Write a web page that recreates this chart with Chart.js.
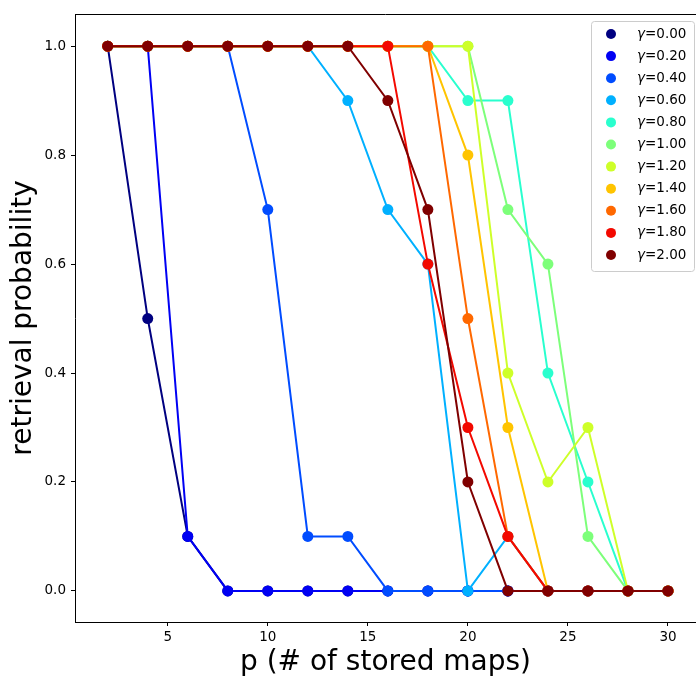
<!DOCTYPE html>
<html>
<head>
<meta charset="utf-8">
<script src="https://cdn.jsdelivr.net/npm/chart.js@4.4.1/dist/chart.umd.min.js"></script>
<style>
  html, body { margin: 0; padding: 0; background: #fff; }
  canvas { display: block; }
</style>
</head>
<body>
<canvas id="chart" width="696" height="677"></canvas>
<script>
// p values (number of stored maps)
const pValues = [2, 4, 6, 8, 10, 12, 14, 16, 18, 20, 22, 24, 26, 28, 30];

const gammaLabels = ['0.00', '0.20', '0.40', '0.60', '0.80', '1.00', '1.20', '1.40', '1.60', '1.80', '2.00'];

// jet colormap samples
const gammaColors = ['#000080', '#0000f3', '#004cff', '#00b0ff', '#29ffce', '#7dff7a',
                     '#ceff29', '#ffc400', '#ff6800', '#f30900', '#800000'];

const g000 = [1, 0.5, 0.1, 0, 0, 0, 0, 0, 0, 0, 0, 0, 0, 0, 0];
const g020 = [1, 1, 0.1, 0, 0, 0, 0, 0, 0, 0, 0, 0, 0, 0, 0];
const g040 = [1, 1, 1, 1, 0.7, 0.1, 0.1, 0, 0, 0, 0, 0, 0, 0, 0];
const g060 = [1, 1, 1, 1, 1, 1, 0.9, 0.7, 0.6, 0, 0.1, 0, 0, 0, 0];
const g080 = [1, 1, 1, 1, 1, 1, 1, 1, 1, 0.9, 0.9, 0.4, 0.2, 0, 0];
const g100 = [1, 1, 1, 1, 1, 1, 1, 1, 1, 1, 0.7, 0.6, 0.1, 0, 0];
const g120 = [1, 1, 1, 1, 1, 1, 1, 1, 1, 1, 0.4, 0.2, 0.3, 0, 0];
const g140 = [1, 1, 1, 1, 1, 1, 1, 1, 1, 0.8, 0.3, 0, 0, 0, 0];
const g160 = [1, 1, 1, 1, 1, 1, 1, 1, 1, 0.5, 0.1, 0, 0, 0, 0];
const g180 = [1, 1, 1, 1, 1, 1, 1, 1, 0.6, 0.3, 0.1, 0, 0, 0, 0];
const g200 = [1, 1, 1, 1, 1, 1, 1, 0.9, 0.7, 0.2, 0, 0, 0, 0, 0];

const series = [g000, g020, g040, g060, g080, g100, g120, g140, g160, g180, g200];

const xTicks = [5, 10, 15, 20, 25, 30];
const yTicks = [0, 0.2, 0.4, 0.6, 0.8, 1.0];

const FONT = "'DejaVu Sans', sans-serif";

// top frame line (matplotlib box)
const framePlugin = {
  id: 'frame',
  afterDatasetsDraw(chart) {
    const { ctx, chartArea: a } = chart;
    ctx.save();
    ctx.strokeStyle = '#000';
    ctx.lineWidth = 1;
    ctx.beginPath();
    ctx.moveTo(a.left, a.top + 0.5);
    ctx.lineTo(a.right, a.top + 0.5);
    ctx.stroke();
    ctx.restore();
  }
};

// matplotlib-style legend box in the upper right
const legendPlugin = {
  id: 'mplLegend',
  afterDraw(chart) {
    const { ctx } = chart;
    const x0 = 591, y0 = 21, w = 103, h = 250, r = 3;
    ctx.save();
    ctx.fillStyle = 'rgba(255,255,255,0.8)';
    ctx.strokeStyle = '#cccccc';
    ctx.lineWidth = 1;
    ctx.beginPath();
    ctx.roundRect(x0 + 0.5, y0 + 0.5, w, h, r);
    ctx.fill();
    ctx.stroke();

    chart.data.datasets.forEach((ds, i) => {
      const cy = 34 + i * 22.1;
      ctx.fillStyle = ds.backgroundColor;
      ctx.beginPath();
      ctx.arc(611, cy, 5, 0, Math.PI * 2);
      ctx.fill();

      ctx.fillStyle = '#000';
      ctx.textBaseline = 'middle';
      ctx.font = "italic 13.5px " + FONT;
      ctx.fillText('γ', 637, cy);
      const gw = ctx.measureText('γ').width;
      ctx.font = "13.5px " + FONT;
      ctx.fillText('=' + gammaLabels[i], 637 + gw, cy);
    });
    ctx.restore();
  }
};

new Chart(document.getElementById('chart'), {
  type: 'line',
  data: {
    datasets: series.map((vals, i) => ({
      label: 'γ=' + gammaLabels[i],
      data: vals.map((v, j) => ({ x: pValues[j], y: v })),
      borderColor: gammaColors[i],
      backgroundColor: gammaColors[i],
      borderWidth: 2,
      pointRadius: 5.5,
      pointBorderWidth: 0,
      pointHoverRadius: 5.5,
      tension: 0,
      fill: false,
      order: -i,
    })),
  },
  options: {
    responsive: false,
    animation: false,
    events: [],
    layout: { autoPadding: false, padding: { top: 14, right: 0, left: 0, bottom: 0 } },
    plugins: {
      legend: { display: false },
      tooltip: { enabled: false },
    },
    scales: {
      x: {
        type: 'linear',
        min: 0.365,
        max: 31.4,
        afterBuildTicks: s => { s.ticks = xTicks.map(v => ({ value: v })); },
        afterFit: s => { s.height = 55; s.paddingLeft = 0; s.paddingRight = 0; },
        ticks: {
          color: '#000',
          font: { family: FONT, size: 13.5 },
          padding: 3,
          maxRotation: 0,
          callback: v => String(v),
        },
        grid: { drawOnChartArea: false, drawTicks: true, tickLength: 4, color: '#000' },
        border: { display: true, color: '#000', width: 1 },
        title: {
          display: true,
          text: 'p (# of stored maps)',
          color: '#000',
          font: { family: FONT, size: 28, lineHeight: 1 },
          padding: { top: 0, bottom: 0 },
        },
      },
      y: {
        min: -0.057,
        max: 1.059,
        afterBuildTicks: s => { s.ticks = yTicks.map(v => ({ value: v })); },
        afterFit: s => { s.width = 75; s.paddingTop = 0; s.paddingBottom = 0; },
        ticks: {
          color: '#000',
          font: { family: FONT, size: 13.5 },
          padding: 5,
          callback: v => v.toFixed(1),
        },
        grid: { drawOnChartArea: false, drawTicks: true, tickLength: 4, color: '#000' },
        border: { display: true, color: '#000', width: 1 },
        title: {
          display: true,
          text: 'retrieval probability',
          color: '#000',
          font: { family: FONT, size: 28, lineHeight: 1 },
          padding: { top: 10, bottom: 0 },
        },
      },
    },
  },
  plugins: [framePlugin, legendPlugin],
});
</script>
</body>
</html>
